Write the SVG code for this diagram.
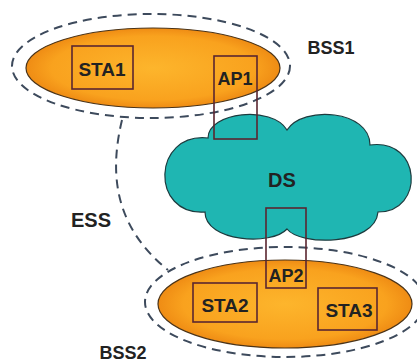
<svg xmlns="http://www.w3.org/2000/svg" width="417" height="363" viewBox="0 0 417 363">
<defs>
<radialGradient id="og" cx="0.5" cy="0.5" r="0.5">
<stop offset="0" stop-color="#fdb52c"/>
<stop offset="0.8" stop-color="#f9a21e"/>
<stop offset="1" stop-color="#ef8c14"/>
</radialGradient>
<style>
.dash{fill:none;stroke:#3d4a5c;stroke-width:2;stroke-dasharray:9 6}
.bss{fill:url(#og);stroke:#4a3318;stroke-width:1.2}
.box{fill:none;stroke:#5a2630;stroke-width:1.6}
.lbl{font-family:"Liberation Sans",Arial,sans-serif;font-weight:bold;fill:#222;text-anchor:middle}
</style>
</defs>
<rect width="417" height="363" fill="#ffffff"/>
<g id="connectors">
<path class="dash" d="M122 120 C110 170 112 225 168 270"/>
</g>
<g id="BSS1">
<ellipse class="dash" cx="151" cy="66" rx="139" ry="52"/>
<ellipse class="bss" cx="153" cy="68" rx="127" ry="40"/>
<text class="lbl" x="331" y="54" font-size="18">BSS1</text>
</g>
<g id="BSS2">
<ellipse class="dash" cx="285" cy="302" rx="140" ry="55"/>
<ellipse class="bss" cx="285" cy="304" rx="127" ry="44"/>
<text class="lbl" x="123" y="359" font-size="18">BSS2</text>
</g>
<g id="ESS">
<text class="lbl" x="91" y="227" font-size="20">ESS</text>
</g>
<g id="DS">
<path d="M208 138 C208 112 272 105 287 130 C303 105 370 110 370 145 C422 138 425 212 378 212 C375 246 300 246 287 229 C272 246 205 242 205 212 C150 216 152 132 208 138 Z" fill="#1fb6b2" stroke="#1d3b3e" stroke-width="1.2"/>
<text class="lbl" x="282" y="187" font-size="20">DS</text>
</g>
<g id="STA1">
<rect class="box" x="72" y="46" width="61" height="43"/>
<text class="lbl" x="102" y="76" font-size="19">STA1</text>
</g>
<g id="AP1">
<rect class="box" x="214" y="56" width="43" height="83"/>
<text class="lbl" x="235" y="85" font-size="18">AP1</text>
</g>
<g id="AP2">
<rect class="box" x="266" y="208" width="40" height="80"/>
<text class="lbl" x="286" y="282" font-size="18">AP2</text>
</g>
<g id="STA2">
<rect class="box" x="193" y="283" width="64" height="39"/>
<text class="lbl" x="225" y="312" font-size="19">STA2</text>
</g>
<g id="STA3">
<rect class="box" x="318" y="288" width="59" height="42"/>
<text class="lbl" x="349" y="317" font-size="19">STA3</text>
</g>
</svg>
